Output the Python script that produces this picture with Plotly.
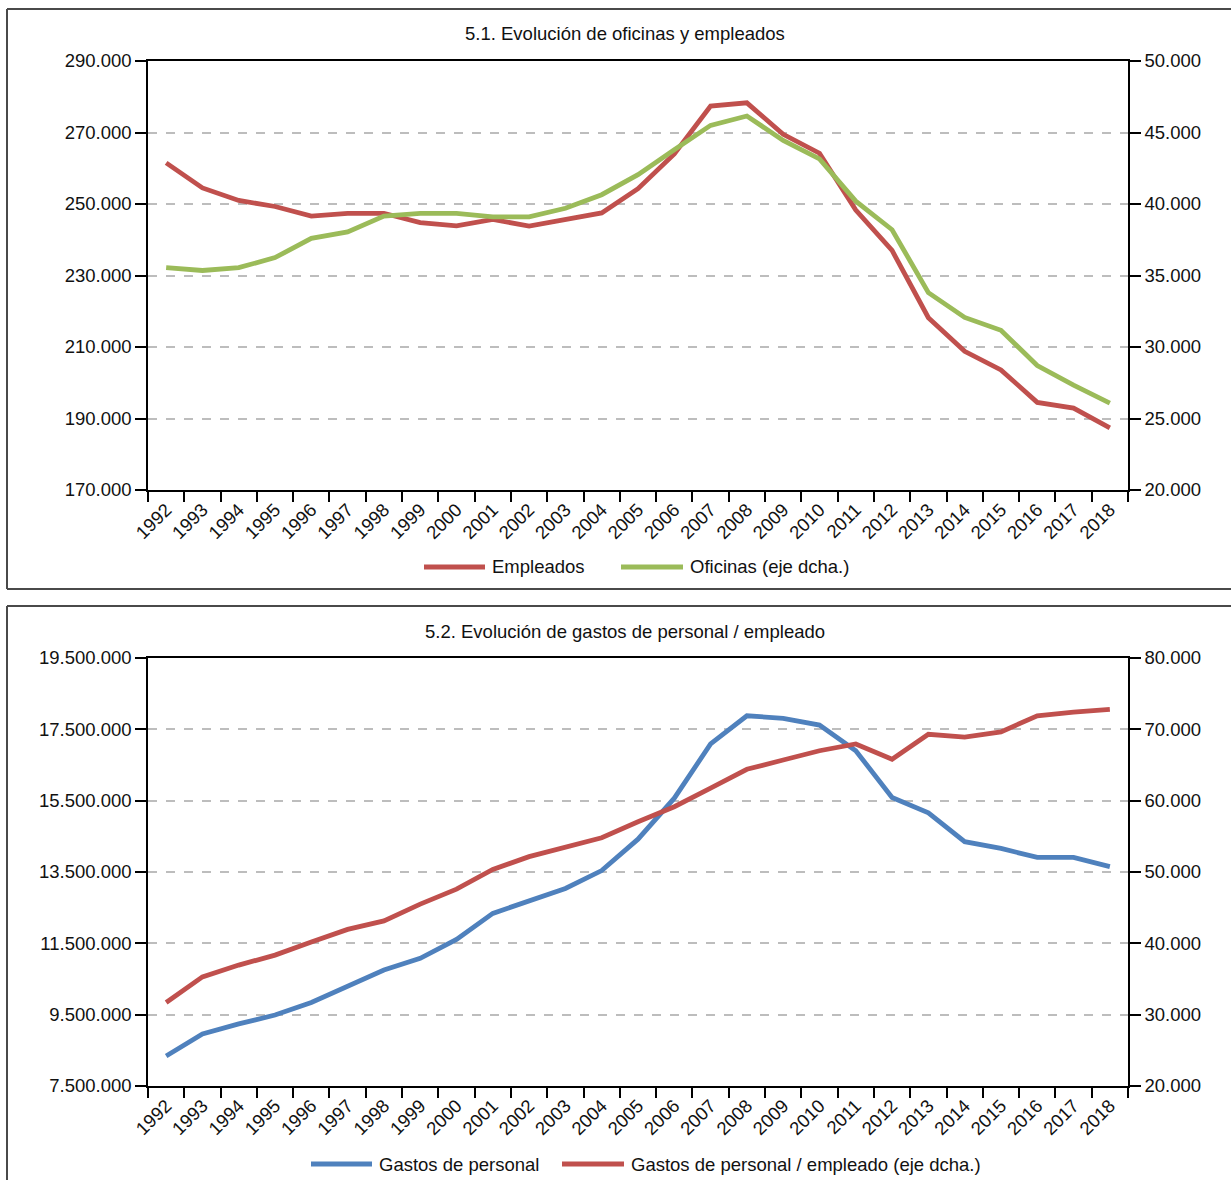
import plotly.graph_objects as go

# ---------------- data ----------------
years = ["1992", "1993", "1994", "1995", "1996", "1997", "1998", "1999", "2000",
         "2001", "2002", "2003", "2004", "2005", "2006", "2007", "2008", "2009",
         "2010", "2011", "2012", "2013", "2014", "2015", "2016", "2017", "2018"]

empleados = [261500, 254500, 251000, 249300, 246600, 247400, 247400, 244800, 243900,
             245700, 243800, 245500, 247500, 254300, 264000, 277400, 278300, 269500,
             264200, 248300, 237000, 218200, 208800, 203600, 194500, 192900, 187400]

oficinas = [35550, 35350, 35550, 36250, 37600, 38050, 39150, 39350, 39350,
            39100, 39100, 39700, 40650, 42050, 43800, 45500, 46150, 44450,
            43150, 40200, 38200, 33800, 32070, 31170, 28700, 27330, 26080]

gastos_personal = [8340000, 8960000, 9240000, 9490000, 9840000, 10300000, 10750000, 11080000, 11610000,
                   12340000, 12700000, 13040000, 13540000, 14420000, 15570000, 17090000, 17880000, 17810000,
                   17620000, 16900000, 15590000, 15160000, 14350000, 14160000, 13910000, 13910000, 13650000]

gastos_por_empleado = [31700, 35300, 36950, 38350, 40200, 41950, 43150, 45500, 47600,
                       50350, 52150, 53550, 54800, 57050, 59150, 61750, 64400, 65700,
                       67000, 67950, 65800, 69300, 68900, 69650, 71900, 72400, 72800]

titles = ["5.1. Evolución de oficinas y empleados",
          "5.2. Evolución de gastos de personal / empleado"]
names_top = ["Empleados", "Oficinas (eje dcha.)"]
names_bottom = ["Gastos de personal", "Gastos de personal / empleado (eje dcha.)"]

RED = "#C0504D"
GREEN = "#9BBB59"
BLUE = "#4F81BD"

W, H = 1231, 1180
FONT = "Liberation Sans, Arial, Helvetica, sans-serif"
FS = 18.5
LW = 4.8


def px(x):
    return x / W


def py(y):
    return 1 - y / H


fig = go.Figure()

fig.add_trace(go.Scatter(x=years, y=empleados, name=names_top[0], mode="lines",
                         line=dict(color=RED, width=LW), xaxis="x", yaxis="y", showlegend=False))
fig.add_trace(go.Scatter(x=years, y=oficinas, name=names_top[1], mode="lines",
                         line=dict(color=GREEN, width=LW), xaxis="x", yaxis="y2", showlegend=False))
fig.add_trace(go.Scatter(x=years, y=gastos_personal, name=names_bottom[0], mode="lines",
                         line=dict(color=BLUE, width=LW), xaxis="x2", yaxis="y3", showlegend=False))
fig.add_trace(go.Scatter(x=years, y=gastos_por_empleado, name=names_bottom[1], mode="lines",
                         line=dict(color=RED, width=LW), xaxis="x2", yaxis="y4", showlegend=False))

xdom = [px(148), px(1128)]
top_dom = [py(490), py(61)]
bot_dom = [py(1086), py(658)]

xcommon = dict(type="category", domain=xdom, range=[-0.5, 26.5], showline=True, linecolor="black",
               linewidth=1.5, mirror=True, ticks="outside", ticklen=10, tickcolor="black",
               tickwidth=1.5, tickson="boundaries", tickangle=-45, showgrid=False, automargin=False,
               tickfont=dict(size=FS, color="#111", family=FONT), fixedrange=True)
ycommon = dict(showline=True, linecolor="black", linewidth=1.5, ticks="outside", ticklen=11,
               tickcolor="black", tickwidth=1.5, tickformat=",d", zeroline=False, automargin=False,
               tickfont=dict(size=FS, color="#111", family=FONT), fixedrange=True)
grid = dict(showgrid=True, gridcolor="#BDBDBD", griddash="dash", gridwidth=1.5)

fig.update_layout(
    width=W, height=H,
    margin=dict(l=0, r=0, t=0, b=0, pad=0),
    paper_bgcolor="white", plot_bgcolor="white",
    separators=",.",
    font=dict(family=FONT, size=FS, color="#111"),
    showlegend=False,
    xaxis=dict(anchor="y", **xcommon),
    yaxis=dict(domain=top_dom, anchor="x", range=[170000, 290000], tick0=170000, dtick=20000,
               **grid, **ycommon),
    yaxis2=dict(overlaying="y", side="right", anchor="x", range=[20000, 50000], tick0=20000,
                dtick=5000, showgrid=False, **ycommon),
    xaxis2=dict(anchor="y3", **xcommon),
    yaxis3=dict(domain=bot_dom, anchor="x2", range=[7500000, 19500000], tick0=7500000,
                dtick=2000000, **grid, **ycommon),
    yaxis4=dict(overlaying="y3", side="right", anchor="x2", range=[20000, 80000], tick0=20000,
                dtick=10000, showgrid=False, **ycommon),
)

FRAME = dict(color="#4a4a4a", width=2)
shapes = [
    # top panel frame (right edge falls outside the window)
    dict(type="line", xref="paper", yref="paper", x0=px(7), x1=1, y0=py(9), y1=py(9), line=FRAME),
    dict(type="line", xref="paper", yref="paper", x0=px(7), x1=1, y0=py(589), y1=py(589), line=FRAME),
    dict(type="line", xref="paper", yref="paper", x0=px(7), x1=px(7), y0=py(589), y1=py(9), line=FRAME),
    # bottom panel frame
    dict(type="line", xref="paper", yref="paper", x0=px(7), x1=1, y0=py(606), y1=py(606), line=FRAME),
    dict(type="line", xref="paper", yref="paper", x0=px(7), x1=px(7), y0=0, y1=py(606), line=FRAME),
]

annotations = [
    dict(text=titles[0], x=px(625), y=py(34), xref="paper", yref="paper", showarrow=False,
         xanchor="center", yanchor="middle", font=dict(size=18.5, color="#111", family=FONT)),
    dict(text=titles[1], x=px(625), y=py(631), xref="paper", yref="paper", showarrow=False,
         xanchor="center", yanchor="middle", font=dict(size=18.5, color="#111", family=FONT)),
]

# legends (drawn as sample lines + labels)
legend_items = [
    (RED, 424, 485, 567, names_top[0]),
    (GREEN, 621, 683, 567, names_top[1]),
    (BLUE, 311, 372, 1164, names_bottom[0]),
    (RED, 562, 624, 1164, names_bottom[1]),
]
for color, xa, xb, yy, label in legend_items:
    shapes.append(dict(type="line", xref="paper", yref="paper", x0=px(xa), x1=px(xb),
                       y0=py(yy), y1=py(yy), line=dict(color=color, width=5)))
    annotations.append(dict(text=label, x=px(xb + 5), y=py(yy), xref="paper", yref="paper",
                            showarrow=False, xanchor="left", yanchor="middle",
                            font=dict(size=18.5, color="#111", family=FONT)))

fig.update_layout(shapes=shapes, annotations=annotations)

# remove the default page margin so the 1231x1180 figure fills the window exactly
fig.write_html("out.html", config={"displayModeBar": False},
               post_script="document.body.style.margin='0px';")
